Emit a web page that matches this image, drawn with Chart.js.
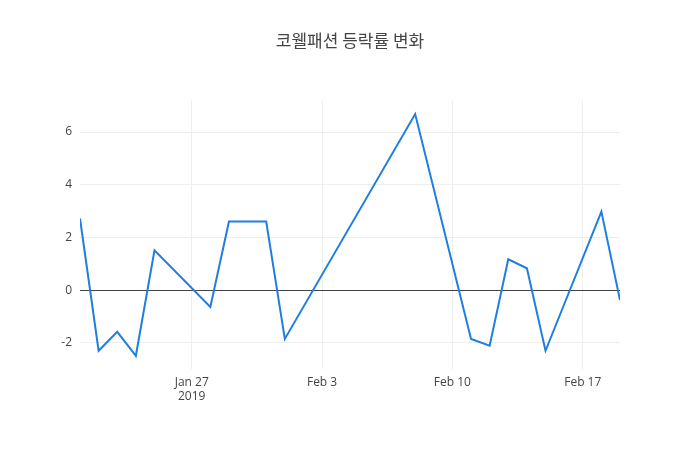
<!DOCTYPE html>
<html><head><meta charset="utf-8">
<script src="https://cdn.jsdelivr.net/npm/chart.js@4/dist/chart.umd.min.js"></script>
<style>body{margin:0;background:#fff}#w{width:700px;height:450px}</style>
</head><body><div id="w"><canvas id="c"></canvas></div>
<script>
// days relative to Jan 27 2019
const dayOffsets = [-6,-5,-4,-3,-2,1,2,3,4,5,12,15,16,17,18,19,22,23];
const values = [2.72,-2.3,-1.58,-2.49,1.51,-0.64,2.6,2.6,2.6,-1.85,6.68,-1.85,-2.11,1.17,0.83,-2.3,2.98,-0.38];
const xTickPos = [0,7,14,21];
const xTickLabels = [["Jan 27","2019"],"Feb 3","Feb 10","Feb 17"];
const yTicks = [-2,0,2,4,6];
Chart.defaults.font.family = "'Open Sans', sans-serif";
Chart.defaults.color = '#444';
new Chart(document.getElementById('c'), {
  type: 'line',
  data: { datasets: [{ data: dayOffsets.map((d,i)=>({x:d,y:values[i]})), borderColor:'#1f7ee0', borderWidth:2, pointRadius:0, tension:0, fill:false }] },
  options: {
    responsive:true, maintainAspectRatio:false, animation:false,
    layout:{padding:{left:0,right:0,top:20,bottom:40}},
    plugins:{legend:{display:false},tooltip:{enabled:false},
      title:{display:true,text:'코웰패션 등락률 변화',font:{size:17,weight:'normal',family:"'Noto Sans CJK KR', sans-serif"},color:'#444',padding:{top:10,bottom:50}}},
    scales:{
      x:{type:'linear',min:-6,max:23,
        afterBuildTicks:s=>{s.ticks=xTickPos.map(v=>({value:v}));},
        ticks:{callback:(v)=>xTickLabels[xTickPos.indexOf(v)],maxRotation:0,font:{size:12},padding:6},
        grid:{color:'#eee',drawTicks:false},border:{display:false}},
      y:{min:-3,max:7.2,
        afterBuildTicks:s=>{s.ticks=yTicks.map(v=>({value:v}));},
        afterFit:s=>{s.width=80;},
        ticks:{font:{size:12},padding:8},
        grid:{color:c=>c.tick&&c.tick.value===0?'#444':'#eee',drawTicks:false,lineWidth:1},border:{display:false}},
      yr:{position:'right',min:-3,max:7.2,display:true,
        afterFit:s=>{s.width=80;},
        ticks:{display:false},grid:{display:false},border:{display:false}}
    }
  }
});
</script></body></html>
